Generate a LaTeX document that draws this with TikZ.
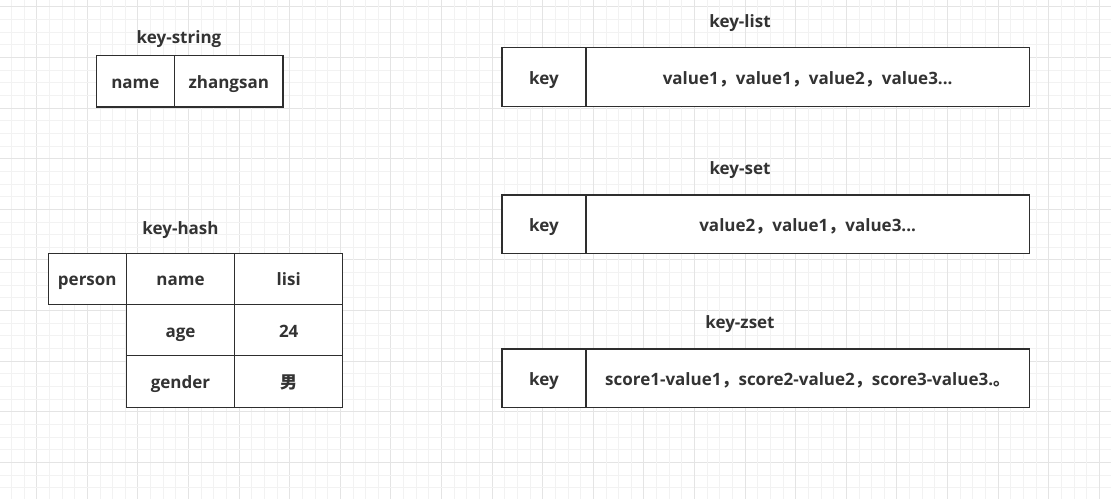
\documentclass[tikz,border=0pt]{standalone}
\usepackage{fontspec}
\setmainfont{Open Sans}
\newfontfamily\cjk{Noto Sans CJK SC}
\definecolor{txt}{HTML}{333333}
\definecolor{gridminor}{HTML}{F2F2F2}
\definecolor{gridmajor}{HTML}{E4E4E4}
\definecolor{edge}{HTML}{2E2E2E}
\newcommand{\fw}[1]{{\cjk #1}}
\begin{document}
\begin{tikzpicture}[x=1pt,y=-1pt,
  cell/.style={draw=edge, line width=1.3pt, fill=white, inner sep=0pt, outer sep=0pt,
    anchor=north west, text=txt, text height=16pt, text depth=2pt,
    font=\fontsize{17}{19}\selectfont\bfseries},
  ttl/.style={text=txt, font=\fontsize{17}{19}\selectfont\bfseries, inner sep=0pt,
    text height=14pt, text depth=2pt}]
% background and grid
\fill[white] (0,0) rectangle (1111,499);
\useasboundingbox (0,0) rectangle (1111,499);
\foreach \i in {-7,...,82} {
  \pgfmathsetmacro{\xx}{87.3+\i*12.65}
  \pgfmathsetmacro{\yy}{6.9+\i*12.65}
  \pgfmathtruncatemacro{\m}{mod(\i+400,4)}
  \ifnum\m=0
    \draw[gridmajor, line width=0.9pt] (\xx,0) -- (\xx,499);
    \draw[gridmajor, line width=0.9pt] (0,\yy) -- (1111,\yy);
  \else
    \draw[gridminor, line width=0.9pt] (\xx,0) -- (\xx,499);
    \draw[gridminor, line width=0.9pt] (0,\yy) -- (1111,\yy);
  \fi
}
% key-string
\node[ttl] (tstring) at (179,37) {key-string};
\node[cell, minimum width=78.2pt, minimum height=51.3pt] (sname) at (96.3,55.7) {name};
\node[cell, minimum width=108.5pt, minimum height=51.3pt] (sval) at (sname.north east) {zhangsan};
% key-hash
\node[ttl] (thash) at (180.5,228.5) {key-hash};
\node[cell, minimum width=78pt, minimum height=51pt] (hkey) at (48.3,253.3) {person};
\node[cell, minimum width=108.4pt, minimum height=51pt] (hf1) at (hkey.north east) {name};
\node[cell, minimum width=108pt, minimum height=51pt] (hv1) at (hf1.north east) {lisi};
\node[cell, minimum width=108.4pt, minimum height=51.4pt] (hf2) at (hf1.south west) {age};
\node[cell, minimum width=108pt, minimum height=51.4pt] (hv2) at (hf2.north east) {24};
\node[cell, minimum width=108.4pt, minimum height=51.6pt] (hf3) at (hf2.south west) {gender};
\node[cell, minimum width=108pt, minimum height=51.6pt] (hv3) at (hf3.north east) {\fw{男}};
% key-list
\node[ttl] (tlist) at (740,21.5) {key-list};
\node[cell, minimum width=84pt, minimum height=59.4pt] (lkey) at (502,47.3) {key};
\node[cell, minimum width=443.3pt, minimum height=59.4pt] (lval) at (lkey.north east) {value1\fw{，}value1\fw{，}value2\fw{，}value3...};
% key-set
\node[ttl] (tset) at (740,168.5) {key-set};
\node[cell, minimum width=84pt, minimum height=58.3pt] (skey) at (502,195) {key};
\node[cell, minimum width=443.3pt, minimum height=58.3pt] (sset) at (skey.north east) {value2\fw{，}value1\fw{，}value3...};
% key-zset
\node[ttl] (tzset) at (740,322.5) {key-zset};
\node[cell, minimum width=84pt, minimum height=58.3pt] (zkey) at (502,349) {key};
\node[cell, minimum width=443.3pt, minimum height=58.3pt] (zval) at (zkey.north east) {score1-value1\fw{，}score2-value2\fw{，}score3-value3.\fw{。}};
\end{tikzpicture}
\end{document}
